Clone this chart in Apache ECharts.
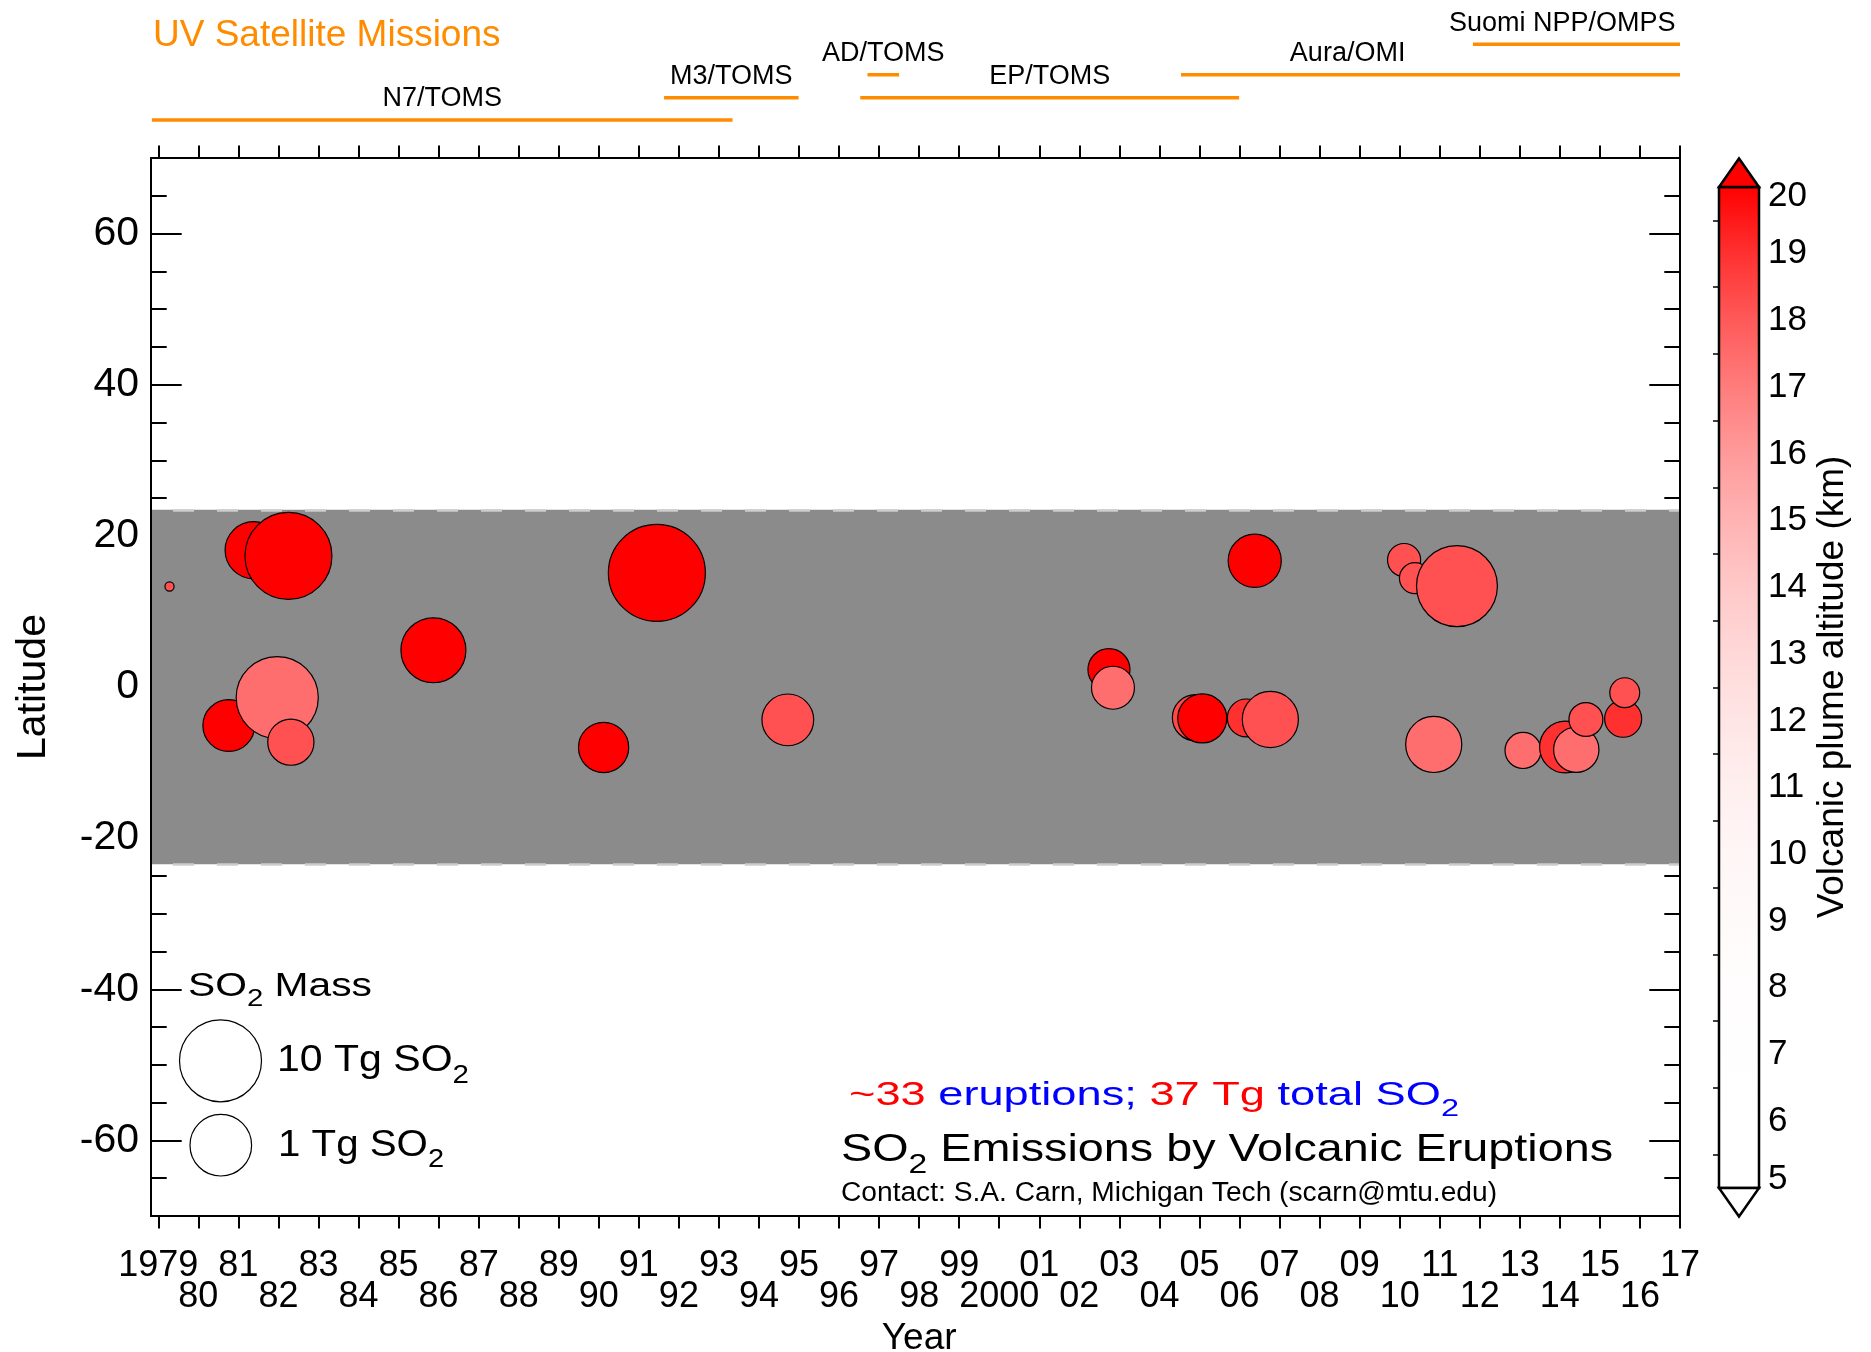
<!DOCTYPE html>
<html>
<head>
<meta charset="utf-8">
<script src="https://cdn.jsdelivr.net/npm/echarts@6.0.0/dist/echarts.min.js"></script>
<style>
html,body{margin:0;padding:0;background:#fff;}
#chart{width:1871px;height:1352px;}
</style>
</head>
<body>
<div id="chart"></div>
<script>
// ---------------- DATA ----------------
const eruptionYear = [1979.28, 1980.76, 1981.38, 1981.97, 1982.25, 1982.31, 1985.87, 1990.12, 1991.45, 1994.72,
                      2002.74, 2002.84, 2004.90, 2005.07, 2006.17, 2006.38, 2006.77, 2010.11, 2010.38, 2010.85,
                      2011.43, 2013.08, 2014.14, 2014.41, 2014.65, 2015.58, 2015.62];
const eruptionLat  = [13.3, -5.1, 18.1, -1.4, 17.35, -7.3, 4.86, -8.0, 15.1, -4.35,
                      2.3, -0.1, -4.06, -4.15, -4.1, 16.7, -4.3, 16.8, 14.4, -7.6,
                      13.35, -8.4, -7.95, -8.3, -4.3, -4.2, -0.75];
const eruptionMassTg = [0.004, 0.22, 0.36, 3.8, 6.0, 0.13, 0.76, 0.19, 15.4, 0.22,
                        0.088, 0.096, 0.13, 0.17, 0.06, 0.25, 0.33, 0.038, 0.031, 0.33,
                        3.4, 0.05, 0.22, 0.12, 0.041, 0.055, 0.028];
const plumeAltKm   = [18.2, 20, 20, 17.4, 20, 18.2, 20, 20, 20, 18.2,
                      20, 17.4, 18.4, 20, 19.0, 20, 18.2, 18.2, 18.2, 17.4,
                      18.2, 17.4, 19.0, 17.4, 18.2, 19.0, 18.2];

const missionNames  = ['N7/TOMS', 'M3/TOMS', 'AD/TOMS', 'EP/TOMS', 'Aura/OMI', 'Suomi NPP/OMPS'];
const missionStart  = [1978.84, 1991.63, 1996.71, 1996.53, 2004.54, 2011.83];
const missionEnd    = [1993.34, 1994.99, 1997.50, 2005.99, 2017.00, 2017.00];
const missionTrack  = [0, 1, 2, 1, 2, 3];
const missionLabelYear = [null, null, null, null, 2008.7, 2014.06];

const yearTickLabels = ['1979','80','81','82','83','84','85','86','87','88','89','90','91','92','93','94','95','96','97','98','99',
                        '2000','01','02','03','04','05','06','07','08','09','10','11','12','13','14','15','16','17'];
const latRange = [-70, 70];
const latMajorStep = 20, latMinorStep = 5;
const altRange = [5, 20];
const tropicLat = 23.44;
// colour bar stops, one per km from 5 to 20
const altColors = ['#ffffff', '#ffffff', '#fffefe', '#fffdfd', '#fffafa', '#fff6f6', '#ffefef', '#ffe5e5',
                   '#ffd8d8', '#ffc8c8', '#ffb3b3', '#ff9a9a', '#ff7c7c', '#ff5959', '#ff3030', '#ff0000'];

// ---------------- LAYOUT / STYLE ----------------
const FONT = '"Liberation Sans", Arial, Helvetica, sans-serif';
const ORANGE = '#ff8c00';
const PX_PER_YEAR = (1680 - 158.3) / 38;
const X_MIN = 1979 - (158.3 - 151) / PX_PER_YEAR;
const X_MAX = 2017;
const TRACK_Y = [120, 97.7, 74.8, 44.3];

function bubbleSize(m) { return Math.max(6, 67.9 + 24.5 * Math.log10(m)); }

const mctx = document.createElement('canvas').getContext('2d');
function textW(t, size) { mctx.font = size + 'px ' + FONT; return mctx.measureText(t).width; }

function scaledLine(segs, x0, capC, F, targetW) {
  const Fs = F * 0.72, drop = F * 0.29;
  const B = capC + 0.358 * F;
  let x = 0; const children = [];
  segs.forEach(s => {
    const size = s.sub ? Fs : F;
    const base = s.sub ? B + drop : B;
    children.push({
      type: 'text', x: x, y: base - 0.3465 * size,
      style: { text: s.t, fontSize: size, fontFamily: FONT, fill: s.c || '#000', align: 'left', verticalAlign: 'middle' }
    });
    x += textW(s.t, size);
  });
  const sx = targetW ? targetW / x : 1;
  return { type: 'group', x: x0, y: 0, scaleX: sx, children: children, silent: true };
}

const scatterData = eruptionYear.map((y, i) => [y, eruptionLat[i], eruptionMassTg[i], plumeAltKm[i]]);
const missionData = missionStart.map((s, i) => [s, missionEnd[i], missionTrack[i]]);

const RED = '#ff0000', BLUE = '#0000ff';
const barStops = altColors.map((c, i) => ({ offset: 1 - i / (altColors.length - 1), color: c }));

const graphics = [
  { type: 'text', x: 153, y: 35.4, silent: true,
    style: { text: 'UV Satellite Missions', fontSize: 37, fontFamily: FONT, fill: ORANGE, align: 'left', verticalAlign: 'middle' } },
  scaledLine([{ t: 'SO' }, { t: '2', sub: true }, { t: ' Mass' }], 188, 985.8, 34, 184),
  { type: 'circle', shape: { cx: 220.5, cy: 1060.8, r: 41 }, style: { fill: 'none', stroke: '#000', lineWidth: 1.2 }, silent: true },
  { type: 'circle', shape: { cx: 220.8, cy: 1145.2, r: 30.8 }, style: { fill: 'none', stroke: '#000', lineWidth: 1.2 }, silent: true },
  scaledLine([{ t: '10 Tg SO' }, { t: '2', sub: true }], 277, 1060.5, 37, 192),
  scaledLine([{ t: '1 Tg SO' }, { t: '2', sub: true }], 278, 1145, 37, 166),
  scaledLine([{ t: '~33', c: RED }, { t: ' eruptions; ', c: BLUE }, { t: '37 Tg', c: RED }, { t: ' total SO', c: BLUE }, { t: '2', c: BLUE, sub: true }],
             849, 1095.5, 34, 610),
  scaledLine([{ t: 'SO' }, { t: '2', sub: true }, { t: ' Emissions by Volcanic Eruptions' }], 841, 1150, 39, 772),
  scaledLine([{ t: 'Contact: S.A. Carn, Michigan Tech (scarn@mtu.edu)' }], 841, 1193.5, 27, 656),
  { type: 'text', x: 1832.6, y: 687, rotation: Math.PI / 2, silent: true,
    style: { text: 'Volcanic plume altitude (km)', fontSize: 37, fontFamily: FONT, fill: '#000', align: 'center', verticalAlign: 'middle' } },
  { type: 'polygon', shape: { points: [[1719, 187], [1759, 187], [1739, 158.5]] }, style: { fill: altColors[altColors.length - 1], stroke: '#000', lineWidth: 2.5 }, z: 20, silent: true },
  { type: 'polygon', shape: { points: [[1719, 1188], [1759, 1188], [1739, 1216.5]] }, style: { fill: altColors[0], stroke: '#000', lineWidth: 2.5 }, z: 20, silent: true }
];

const tickLine = { color: '#000', width: 2 };
function yearLabel(v, row) {
  const i = Math.round(v - 1979);
  const s = yearTickLabels[i];
  if (s === undefined) return '';
  return (i % 2 === row) ? s : '';
}
const NOB = { outerBoundsMode: 'none', containLabel: false };

const option = {
  animation: false,
  backgroundColor: '#ffffff',
  graphic: { elements: graphics },
  visualMap: [{
    type: 'continuous', show: false, seriesIndex: 1, dimension: 3,
    min: altRange[0], max: altRange[1], inRange: { color: altColors }
  }],
  grid: [
    Object.assign({ left: 151, right: 191, top: 158, bottom: 136, show: true, borderColor: '#000', borderWidth: 2, backgroundColor: 'rgba(0,0,0,0)', z: 10 }, NOB),
    Object.assign({ left: 158.3, right: 191, top: 158, bottom: 136 }, NOB),
    Object.assign({ left: 151, right: 191, top: 233.57, bottom: 211.57 }, NOB),
    Object.assign({ left: 151, right: 191, top: 0, height: 150 }, NOB),
    Object.assign({ left: 1719, top: 187, width: 40, height: 1001, show: true, borderColor: '#000', borderWidth: 2.5,
      backgroundColor: new echarts.graphic.LinearGradient(0, 0, 0, 1, barStops.slice().reverse()) }, NOB)
  ],
  xAxis: [
    { gridIndex: 0, type: 'value', min: X_MIN, max: X_MAX, show: false },
    // first label row (1979, 81, 83 ...)
    { gridIndex: 1, type: 'value', min: 1979, max: 2017, interval: 1, position: 'bottom',
      axisLine: { show: false }, splitLine: { show: false }, axisTick: { show: false },
      axisLabel: { show: true, fontSize: 36, fontFamily: FONT, color: '#000', margin: 34.3, lineHeight: 31.3,
        showMinLabel: true, showMaxLabel: true, formatter: v => yearLabel(v, 0) } },
    { gridIndex: 1, type: 'value', min: 1979, max: 2017, interval: 1, position: 'top',
      axisLine: { show: false }, splitLine: { show: false },
      axisTick: { show: true, inside: false, length: 12.5, lineStyle: tickLine }, axisLabel: { show: false } },
    { gridIndex: 2, type: 'value', min: 0, max: 1, show: false },
    { gridIndex: 3, type: 'value', min: X_MIN, max: X_MAX, show: false },
    { gridIndex: 4, type: 'value', min: 0, max: 1, show: false },
    // second label row (80, 82 ...) + bottom ticks + axis name
    { gridIndex: 1, type: 'value', min: 1979, max: 2017, interval: 1, position: 'bottom', offset: 0,
      axisLine: { show: false }, splitLine: { show: false },
      axisTick: { show: true, inside: false, length: 12.5, lineStyle: tickLine },
      axisLabel: { show: true, fontSize: 36, fontFamily: FONT, color: '#000', margin: 65.6, lineHeight: 31.3,
        showMinLabel: true, showMaxLabel: true, formatter: v => yearLabel(v, 1) },
      name: 'Year', nameLocation: 'middle', nameGap: 101,
      nameTextStyle: { fontSize: 37, fontFamily: FONT, color: '#000' } }
  ],
  yAxis: [
    { gridIndex: 0, type: 'value', min: latRange[0], max: latRange[1], interval: latMinorStep, position: 'left',
      axisLine: { show: false }, splitLine: { show: false }, axisLabel: { show: false },
      axisTick: { show: true, inside: true, length: 15.7, lineStyle: tickLine } },
    { gridIndex: 0, type: 'value', min: latRange[0], max: latRange[1], interval: latMinorStep, position: 'right',
      axisLine: { show: false }, splitLine: { show: false }, axisLabel: { show: false },
      axisTick: { show: true, inside: true, length: 15.7, lineStyle: tickLine } },
    { gridIndex: 2, type: 'value', min: -60, max: 60, interval: latMajorStep, position: 'left',
      axisLine: { show: false }, splitLine: { show: false },
      axisTick: { show: true, inside: true, length: 30.7, lineStyle: tickLine },
      axisLabel: { show: true, fontSize: 41, fontFamily: FONT, color: '#000', margin: 12 },
      name: 'Latitude', nameLocation: 'middle', nameGap: 96.5,
      nameTextStyle: { fontSize: 41, fontFamily: FONT, color: '#000' } },
    { gridIndex: 2, type: 'value', min: -60, max: 60, interval: latMajorStep, position: 'right',
      axisLine: { show: false }, splitLine: { show: false }, axisLabel: { show: false },
      axisTick: { show: true, inside: true, length: 30.7, lineStyle: tickLine } },
    { gridIndex: 3, type: 'value', min: 0, max: 150, inverse: true, show: false },
    { gridIndex: 1, type: 'value', min: 0, max: 1, show: false },
    { gridIndex: 4, type: 'value', min: altRange[0], max: altRange[1], interval: 1, position: 'right',
      axisLine: { show: false }, splitLine: { show: false },
      axisTick: { show: false, inside: true },
      minorTick: { show: true, splitNumber: 2, length: 6, lineStyle: { color: '#000', width: 1.5 } },
      axisLabel: { show: true, fontSize: 35, fontFamily: FONT, color: '#000', margin: 9, lineHeight: 18,
        verticalAlignMinLabel: 'bottom', verticalAlignMaxLabel: 'top' } }
  ],
  series: [
    { type: 'line', xAxisIndex: 0, yAxisIndex: 0, data: [], z: 1, silent: true,
      markArea: { silent: true, z: 1, itemStyle: { color: '#8b8b8b', opacity: 1, borderWidth: 0 },
        data: [[{ yAxis: tropicLat }, { yAxis: -tropicLat }]] },
      markLine: { silent: true, z: 2, symbol: ['none', 'none'], label: { show: false },
        lineStyle: { color: '#cdcdcd', width: 2.5, type: [21, 23], dashOffset: 22, opacity: 1 },
        emphasis: { disabled: true },
        data: [{ yAxis: tropicLat }, { yAxis: -tropicLat }] } },
    { type: 'scatter', xAxisIndex: 0, yAxisIndex: 0, data: scatterData, z: 5,
      symbol: 'circle',
      symbolSize: function (val) { return bubbleSize(val[2]); },
      itemStyle: { borderColor: '#000', borderWidth: 1.2, opacity: 1 },
      emphasis: { disabled: true } },
    { type: 'custom', xAxisIndex: 4, yAxisIndex: 4, data: missionData, z: 3, silent: true,
      renderItem: function (params, api) {
        const i = params.dataIndex;
        const yv = TRACK_Y[missionTrack[i]];
        const p1 = api.coord([missionStart[i], yv]);
        const p2 = api.coord([missionEnd[i], yv]);
        const lx = missionLabelYear[i] != null ? api.coord([missionLabelYear[i], yv])[0] : (p1[0] + p2[0]) / 2;
        return {
          type: 'group',
          children: [
            { type: 'line', shape: { x1: p1[0], y1: p1[1], x2: p2[0], y2: p2[1] }, style: { stroke: ORANGE, lineWidth: 3.6 } },
            { type: 'text', style: { text: missionNames[i], x: lx, y: p1[1] - 21, align: 'center', verticalAlign: 'middle',
              fontSize: 27, fontFamily: FONT, fill: '#000' } }
          ]
        };
      } }
  ]
};

const chart = echarts.init(document.getElementById('chart'), null, { renderer: 'canvas', width: 1871, height: 1352 });
chart.setOption(option);
</script>
</body>
</html>
